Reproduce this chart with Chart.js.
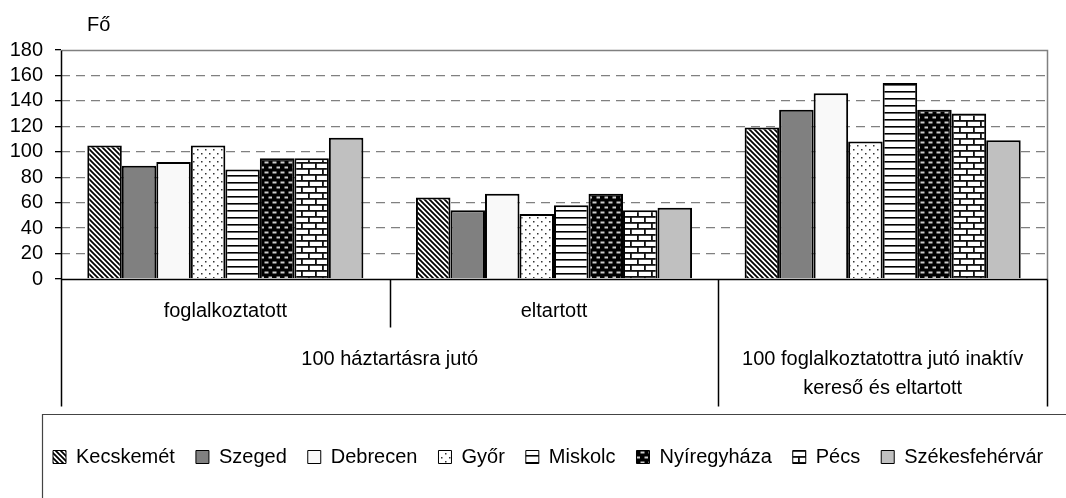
<!DOCTYPE html>
<html>
<head>
<meta charset="utf-8">
<script src="https://cdn.jsdelivr.net/npm/chart.js@4/dist/chart.umd.min.js"></script>
<style>
  html, body { margin: 0; padding: 0; background: #fff; }
  #wrap { width: 1066px; height: 498px; }
</style>
</head>
<body>
<div id="wrap"><canvas id="chart" width="1066" height="498"></canvas></div>
<script>
// categories (first row) and the group labels below them
const categories = ['foglalkoztatott', 'eltartott', ''];
const groupLabels = [['100 háztartásra jutó'], ['100 foglalkoztatottra jutó inaktív', 'kereső és eltartott']];
const groupSpans = [[0, 1], [2, 2]];

const cities = ['Kecskemét', 'Szeged', 'Debrecen', 'Győr', 'Miskolc', 'Nyíregyháza', 'Pécs', 'Székesfehérvár'];

// values (Fő)
const kecskemet      = [105, 64, 119];
const szeged         = [89, 54, 133];
const debrecen       = [92, 67, 146];
const gyor           = [105, 51, 108];
const miskolc        = [86, 58, 154];
const nyiregyhaza    = [95, 67, 133];
const pecs           = [95, 54, 130];
const szekesfehervar = [111, 56, 109];

const yMin = 0, yMax = 180, yStep = 20;
const yUnit = 'Fő';

const FONT = '"Liberation Sans", Arial, sans-serif';

function tile(w, h, draw) {
  const c = document.createElement('canvas');
  c.width = w; c.height = h;
  const g = c.getContext('2d');
  draw(g, w, h);
  return document.getElementById('chart').getContext('2d').createPattern(c, 'repeat');
}

// fill patterns like the old b/w office chart
const diag = tile(5, 5, (g, w, h) => {
  g.fillStyle = '#fff'; g.fillRect(0, 0, w, h);
  g.strokeStyle = '#000'; g.lineWidth = 1.8;
  g.beginPath();
  g.moveTo(-1, -1); g.lineTo(w + 1, h + 1);
  g.moveTo(-1, h - 1); g.lineTo(1, h + 1);
  g.moveTo(w - 1, -1); g.lineTo(w + 1, 1);
  g.stroke();
});
const dots = tile(8, 8, (g, w, h) => {
  g.fillStyle = '#fff'; g.fillRect(0, 0, w, h);
  g.fillStyle = '#333';
  g.fillRect(1, 1, 1.5, 1.5);
  g.fillRect(5, 5, 1.5, 1.5);
});
const hlines = tile(8, 7, (g, w, h) => {
  g.fillStyle = '#fff'; g.fillRect(0, 0, w, h);
  g.fillStyle = '#000'; g.fillRect(0, 0, w, 1.6);
});
const dashes = tile(8, 10, (g, w, h) => {
  g.fillStyle = '#000'; g.fillRect(0, 0, w, h);
  g.fillStyle = '#ccc';
  g.fillRect(0.5, 1.5, 4, 2);
  g.fillRect(4.5, 6.5, 3.5, 2);
});
const bricks = tile(14, 12, (g, w, h) => {
  g.fillStyle = '#fff'; g.fillRect(0, 0, w, h);
  g.fillStyle = '#111';
  g.fillRect(0, 0, w, 1.8);
  g.fillRect(0, 6, w, 1.8);
  g.fillRect(0, 0, 1.8, 6);
  g.fillRect(7, 6, 1.8, 6);
});

const fills = [diag, '#808080', '#f9f9f9', dots, hlines, dashes, bricks, '#c0c0c0'];
const series = [kecskemet, szeged, debrecen, gyor, miskolc, nyiregyhaza, pecs, szekesfehervar];

const frame = {
  id: 'frame',
  afterLayout(chart) {
    // legend starts inside its frame, not at the canvas edge
    chart.legend.left = 32;
  },
  afterDraw(chart) {
    const ctx = chart.ctx;
    const a = chart.chartArea;
    const n = categories.length;
    const w = (a.right - a.left) / n;
    const L = Math.round(a.left) + 0.5, R = Math.round(a.right) + 0.5;
    const B = Math.round(a.bottom) + 0.5, T = Math.round(a.top) + 0.5;
    const deep = B + 127;
    ctx.save();
    // plot border top/right
    ctx.strokeStyle = '#808080'; ctx.lineWidth = 1.5;
    ctx.beginPath();
    ctx.moveTo(L, T); ctx.lineTo(R, T); ctx.lineTo(R, B);
    ctx.stroke();
    // axes + category separators
    ctx.strokeStyle = '#000'; ctx.lineWidth = 1.5;
    ctx.beginPath();
    ctx.moveTo(L, T); ctx.lineTo(L, deep);
    ctx.moveTo(L, B); ctx.lineTo(R, B);
    ctx.moveTo(Math.round(a.left + w) + 0.5, B); ctx.lineTo(Math.round(a.left + w) + 0.5, B + 48);
    ctx.moveTo(Math.round(a.left + 2 * w) + 0.5, B); ctx.lineTo(Math.round(a.left + 2 * w) + 0.5, deep);
    ctx.moveTo(R, B); ctx.lineTo(R, deep);
    ctx.stroke();

    ctx.fillStyle = '#000';
    ctx.font = '20px ' + FONT;
    ctx.textAlign = 'center'; ctx.textBaseline = 'middle';
    const xs = chart.scales.x;
    categories.forEach((c, i) => {
      if (c) ctx.fillText(c, xs.getPixelForValue(i), a.bottom + 32);
    });
    groupLabels.forEach((lines, g) => {
      const [s, e] = groupSpans[g];
      const cx = (xs.getPixelForValue(s) + xs.getPixelForValue(e)) / 2;
      lines.forEach((t, k) => ctx.fillText(t, cx, a.bottom + 80 + k * 29));
    });

    ctx.textAlign = 'left';
    ctx.fillText(yUnit, 87, 25);

    // legend frame (runs off the right and bottom edge)
    const ly = Math.round(a.bottom + 135) + 0.5;
    ctx.strokeStyle = '#444'; ctx.lineWidth = 1.2;
    ctx.beginPath();
    ctx.moveTo(42.5, chart.height); ctx.lineTo(42.5, ly); ctx.lineTo(chart.width, ly);
    ctx.stroke();
    ctx.restore();
  }
};

new Chart('chart', {
  type: 'bar',
  data: {
    labels: categories,
    datasets: cities.map((name, i) => ({
      label: name,
      data: series[i],
      backgroundColor: fills[i],
      borderColor: '#000',
      borderWidth: 2,
      categoryPercentage: 0.84,
      barPercentage: 1.0
    }))
  },
  options: {
    responsive: false,
    animation: false,
    layout: { padding: { top: 50, left: 0, right: 0, bottom: 21 } },
    scales: {
      x: {
        grid: { display: false },
        border: { display: false },
        ticks: { display: false },
        afterFit(s) { s.height = 147; }
      },
      y: {
        min: yMin, max: yMax,
        ticks: { stepSize: yStep, autoSkip: false, color: '#000', font: { size: 20, family: FONT }, padding: 12 },
        grid: {
          color: c => (c.tick.value === yMin || c.tick.value === yMax) ? 'rgba(0,0,0,0)' : '#808080',
          lineWidth: 1.3,
          tickColor: '#000',
          tickLength: 6,
          tickWidth: 1.3,
          tickBorderDash: []
        },
        border: { display: false, dash: [9, 6] },
        afterFit(s) { s.width = 61; }
      },
      y2: {
        position: 'right',
        display: true,
        grid: { display: false },
        border: { display: false },
        ticks: { display: false },
        afterFit(s) { s.width = 19; }
      }
    },
    plugins: {
      tooltip: { enabled: false },
      legend: {
        position: 'bottom',
        align: 'start',
        labels: {
          color: '#000',
          font: { size: 20, family: FONT },
          boxWidth: 13,
          boxHeight: 13,
          padding: 21,
          generateLabels(chart) {
            return Chart.defaults.plugins.legend.labels.generateLabels(chart)
              .map(l => Object.assign(l, { lineWidth: 1 }));
          }
        }
      }
    }
  },
  plugins: [frame]
});
</script>
</body>
</html>
